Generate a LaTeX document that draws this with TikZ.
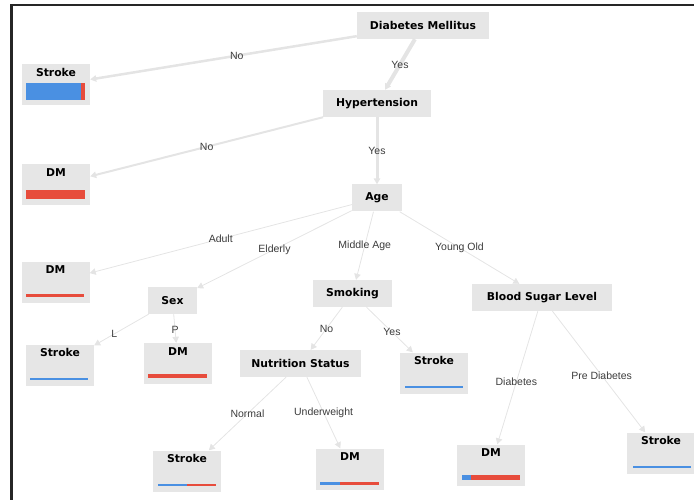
\documentclass[tikz,border=0pt]{standalone}
\usepackage{fontspec}
\setmainfont{Liberation Sans}
\newfontfamily\titlefont{DejaVu Sans}
\usetikzlibrary{arrows.meta}
\definecolor{boxgray}{RGB}{230,230,230}
\definecolor{edgegray}{RGB}{228,228,228}
\definecolor{strokeblue}{RGB}{74,144,226}
\definecolor{dmred}{RGB}{231,76,60}
\definecolor{labelgray}{RGB}{60,60,60}

\begin{document}
\begin{tikzpicture}[x=1pt, y=-1pt, >={Triangle[length=6pt,width=6.5pt]},
    split/.style={fill=boxgray, minimum height=27pt, inner sep=0pt,
        font=\titlefont\bfseries\fontsize{10.8}{12}\selectfont},
    leaf/.style={fill=boxgray, minimum width=68pt, inner xsep=0pt, inner ysep=3pt,
        text height=9pt, text depth=26pt,
        font=\titlefont\bfseries\fontsize{10.8}{12}\selectfont},
    branch/.style={->, draw=edgegray, line width=0.8pt},
    answer/.style={font=\fontsize{10.5}{12}\selectfont, text=labelgray, inner sep=1pt}]
    \useasboundingbox (0,0) rectangle (694,500);

    % Frame
    \draw[line width=2.5pt, black!85] (11.5,500) -- (11.5,5) -- (694,5);

    % Split nodes
    \node[split, minimum width=132pt] (root) at (423,25.5) {Diabetes Mellitus};
    \node[split, minimum width=108pt] (hyp) at (377,103.5) {Hypertension};
    \node[split, minimum width=50pt] (age) at (377,198) {Age};
    \node[split, minimum width=49pt] (sex) at (172.5,300.5) {Sex};
    \node[split, minimum width=79pt] (smoke) at (352.5,293.5) {Smoking};
    \node[split, minimum width=121pt] (nutr) at (300.5,363.5) {Nutrition Status};
    \node[split, minimum width=140pt] (bsl) at (542,297.5) {Blood Sugar Level};

    % Leaf nodes
    \node[leaf] (s1) at (56,85) {Stroke};
    \node[leaf] (dm1) at (56,185) {DM};
    \node[leaf] (dm2) at (55.5,282) {DM};
    \node[leaf] (s2) at (60,365) {Stroke};
    \node[leaf] (dm3) at (178,363.5) {DM};
    \node[leaf] (s3) at (434,373) {Stroke};
    \node[leaf] (s4) at (187,471) {Stroke};
    \node[leaf] (dm4) at (350,469) {DM};
    \node[leaf] (dm5) at (491,465) {DM};
    \node[leaf] (s5) at (661,453) {Stroke};

    % Class bars
    \fill[strokeblue] (26,83) rectangle (81,100);
    \fill[dmred] (81,83) rectangle (85,100);
    \fill[dmred] (26,190) rectangle (85,199);
    \fill[dmred] (26,294) rectangle (84,297);
    \fill[strokeblue] (30,377.5) rectangle (88,379.5);
    \fill[dmred] (148,374) rectangle (207,378);
    \fill[strokeblue] (405,386) rectangle (463,388);
    \fill[strokeblue] (158,484) rectangle (187,486);
    \fill[dmred] (187,484) rectangle (216,486);
    \fill[strokeblue] (320,482) rectangle (340,484.5);
    \fill[dmred] (340,482) rectangle (379,484.5);
    \fill[strokeblue] (462,475) rectangle (471,480);
    \fill[dmred] (471,475) rectangle (520,480);
    \fill[strokeblue] (633,466) rectangle (691,468);

    % Branches
    \draw[branch, line width=2.5pt] (root) -- node[answer, pos=0.45] {No} (s1);
    \draw[branch, line width=4pt] (root) -- node[answer] {Yes} (hyp);
    \draw[branch, line width=2pt] (hyp) -- node[answer] {No} (dm1);
    \draw[branch, line width=3pt] (hyp) -- node[answer] {Yes} (age);
    \draw[branch] (age) -- node[answer] {Adult} (dm2);
    \draw[branch] (age) -- node[answer] {Elderly} (sex);
    \draw[branch] (age) -- node[answer] {Middle Age} (smoke);
    \draw[branch] (age) -- node[answer] {Young Old} (bsl);
    \draw[branch] (sex) -- node[answer, pos=0.63] {L} (s2);
    \draw[branch] (sex) -- node[answer, pos=0.55] {P} (dm3);
    \draw[branch] (smoke) -- node[answer] {No} (nutr);
    \draw[branch] (smoke) -- node[answer, pos=0.55] {Yes} (s3);
    \draw[branch] (nutr) -- node[answer] {Normal} (s4);
    \draw[branch] (nutr) -- node[answer] {Underweight} (dm4);
    \draw[branch] (bsl) -- node[answer, pos=0.53] {Diabetes} (dm5);
    \draw[branch] (bsl) -- node[answer, pos=0.53] {Pre Diabetes} (s5);
\end{tikzpicture}
\end{document}
